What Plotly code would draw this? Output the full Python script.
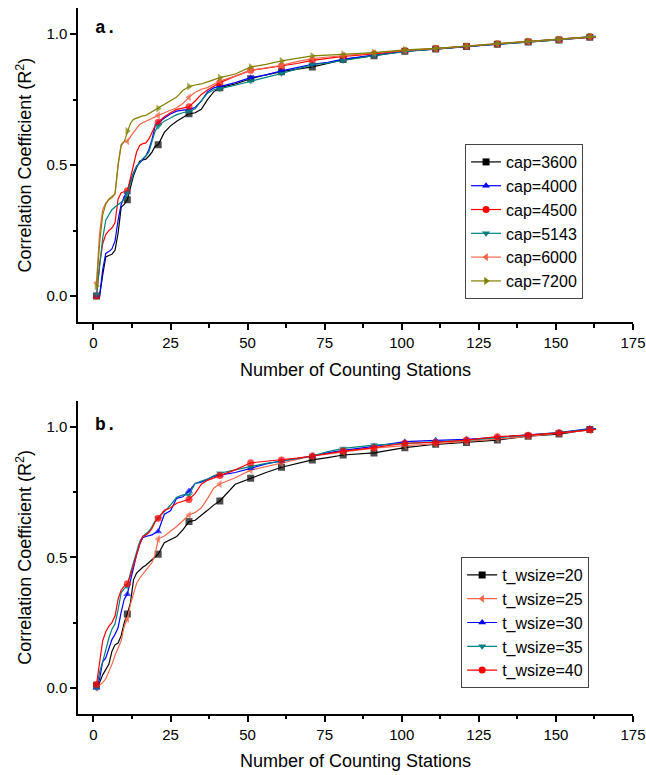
import plotly.graph_objects as go

# ---------------- data ----------------
X_A = [1, 2, 3, 4, 5, 6, 7, 8, 9, 10, 11, 12, 13, 14, 15, 16, 17, 18, 19, 20, 21,
       23, 25, 27, 29, 31, 33, 35, 37, 39, 41, 46, 51, 56, 61, 66, 71, 76, 81,
       91, 101, 111, 121, 131, 141, 151, 161, 163]
X_B = list(X_A)
MARKER_X = [1, 11, 21, 31, 41, 51, 61, 71, 81, 91, 101, 111, 121, 131, 141, 151, 161]

CAP_3600 = [0.00, 0.00, 0.08, 0.15, 0.155, 0.16, 0.175, 0.24, 0.34, 0.35, 0.368, 0.41, 0.46, 0.49, 0.515, 0.52, 0.523, 0.535, 0.55, 0.572, 0.578,
            0.625, 0.65, 0.668, 0.682, 0.696, 0.70, 0.713, 0.75, 0.78, 0.796, 0.81, 0.83, 0.845, 0.857, 0.865, 0.875, 0.888, 0.903,
            0.918, 0.935, 0.943, 0.953, 0.962, 0.97, 0.978, 0.988, 0.99]
CAP_4000 = [0.00, 0.00, 0.10, 0.163, 0.17, 0.18, 0.21, 0.29, 0.35, 0.38, 0.396, 0.44, 0.47, 0.496, 0.508, 0.52, 0.535, 0.56, 0.598, 0.649, 0.66,
            0.68, 0.695, 0.706, 0.71, 0.713, 0.72, 0.745, 0.78, 0.795, 0.80, 0.815, 0.834, 0.845, 0.86, 0.872, 0.885, 0.893, 0.905,
            0.92, 0.935, 0.944, 0.953, 0.963, 0.971, 0.979, 0.99, 0.992]
CAP_4500 = [0.00, 0.12, 0.20, 0.235, 0.25, 0.26, 0.28, 0.37, 0.395, 0.40, 0.402, 0.45, 0.50, 0.55, 0.575, 0.582, 0.585, 0.60, 0.625, 0.65, 0.664,
            0.685, 0.70, 0.713, 0.718, 0.723, 0.745, 0.77, 0.787, 0.80, 0.815, 0.84, 0.862, 0.87, 0.879, 0.888, 0.90, 0.908, 0.915,
            0.925, 0.937, 0.945, 0.954, 0.963, 0.971, 0.979, 0.99, 0.991]
CAP_5143 = [0.005, 0.12, 0.22, 0.29, 0.31, 0.33, 0.34, 0.348, 0.358, 0.37, 0.393, 0.43, 0.47, 0.495, 0.51, 0.525, 0.535, 0.55, 0.59, 0.63, 0.649,
            0.668, 0.68, 0.693, 0.70, 0.706, 0.715, 0.745, 0.775, 0.788, 0.792, 0.805, 0.821, 0.835, 0.85, 0.868, 0.884, 0.89, 0.90,
            0.918, 0.933, 0.944, 0.953, 0.962, 0.97, 0.978, 0.99, 0.991]
CAP_6000 = [0.051, 0.24, 0.33, 0.355, 0.368, 0.375, 0.39, 0.50, 0.58, 0.59, 0.591, 0.61, 0.625, 0.64, 0.655, 0.662, 0.668, 0.674, 0.68, 0.686, 0.69,
            0.70, 0.71, 0.719, 0.735, 0.759, 0.778, 0.79, 0.796, 0.81, 0.821, 0.84, 0.862, 0.872, 0.881, 0.895, 0.907, 0.913, 0.918,
            0.928, 0.938, 0.945, 0.955, 0.964, 0.972, 0.98, 0.99, 0.991]
CAP_7200 = [0.038, 0.20, 0.31, 0.35, 0.37, 0.38, 0.39, 0.50, 0.575, 0.59, 0.63, 0.66, 0.675, 0.68, 0.686, 0.688, 0.69, 0.697, 0.703, 0.71, 0.716,
            0.73, 0.745, 0.76, 0.785, 0.80, 0.806, 0.81, 0.818, 0.827, 0.834, 0.848, 0.875, 0.885, 0.898, 0.908, 0.917, 0.92, 0.923,
            0.93, 0.94, 0.946, 0.955, 0.964, 0.973, 0.981, 0.991, 0.992]

TW_20 = [0.01, 0.02, 0.05, 0.068, 0.09, 0.14, 0.165, 0.172, 0.20, 0.25, 0.283, 0.325, 0.414, 0.44, 0.452, 0.462, 0.47, 0.48, 0.49, 0.50, 0.512,
         0.556, 0.567, 0.58, 0.605, 0.637, 0.642, 0.66, 0.68, 0.70, 0.716, 0.78, 0.803, 0.825, 0.845, 0.86, 0.873, 0.882, 0.892,
         0.90, 0.92, 0.933, 0.94, 0.949, 0.964, 0.972, 0.99, 0.991]
TW_25 = [0.00, 0.01, 0.02, 0.035, 0.06, 0.09, 0.125, 0.155, 0.18, 0.236, 0.264, 0.32, 0.36, 0.40, 0.42, 0.437, 0.45, 0.465, 0.48, 0.51, 0.57,
         0.582, 0.599, 0.618, 0.64, 0.662, 0.672, 0.69, 0.725, 0.765, 0.781, 0.805, 0.834, 0.848, 0.86, 0.875, 0.888, 0.895, 0.904,
         0.918, 0.928, 0.935, 0.943, 0.953, 0.963, 0.975, 0.985, 0.99]
TW_30 = [0.00, 0.035, 0.10, 0.115, 0.15, 0.185, 0.205, 0.23, 0.29, 0.34, 0.359, 0.414, 0.46, 0.51, 0.55, 0.575, 0.58, 0.583, 0.586, 0.593, 0.599,
         0.665, 0.678, 0.726, 0.732, 0.754, 0.783, 0.788, 0.80, 0.81, 0.815, 0.825, 0.841, 0.858, 0.869, 0.878, 0.888, 0.90, 0.91,
         0.925, 0.943, 0.948, 0.952, 0.96, 0.968, 0.978, 0.993, 0.993]
TW_35 = [0.00, 0.06, 0.10, 0.15, 0.19, 0.225, 0.245, 0.30, 0.365, 0.38, 0.39, 0.44, 0.48, 0.529, 0.56, 0.58, 0.59, 0.60, 0.618, 0.64, 0.65,
         0.675, 0.70, 0.73, 0.739, 0.739, 0.783, 0.792, 0.80, 0.812, 0.822, 0.835, 0.847, 0.86, 0.868, 0.878, 0.888, 0.905, 0.917,
         0.93, 0.935, 0.942, 0.948, 0.958, 0.966, 0.978, 0.99, 0.991]
TW_40 = [0.013, 0.10, 0.18, 0.215, 0.236, 0.25, 0.275, 0.34, 0.375, 0.39, 0.399, 0.43, 0.47, 0.503, 0.55, 0.58, 0.585, 0.595, 0.611, 0.635, 0.65,
         0.68, 0.69, 0.707, 0.715, 0.722, 0.745, 0.78, 0.795, 0.805, 0.813, 0.835, 0.862, 0.868, 0.873, 0.88, 0.888, 0.898, 0.907,
         0.92, 0.937, 0.94, 0.949, 0.962, 0.968, 0.977, 0.99, 0.99]

NAMES_A = ["cap=3600", "cap=4000", "cap=4500", "cap=5143", "cap=6000", "cap=7200"]
VALUES_A = [CAP_3600, CAP_4000, CAP_4500, CAP_5143, CAP_6000, CAP_7200]
COLORS_A = ["#000000", "#0000FF", "#FF0000", "#008080", "#F4664A", "#808000"]
SYMBOLS_A = ["square", "triangle-up", "circle", "triangle-down", "triangle-left", "triangle-right"]

NAMES_B = ["t_wsize=20", "t_wsize=25", "t_wsize=30", "t_wsize=35", "t_wsize=40"]
VALUES_B = [TW_20, TW_25, TW_30, TW_35, TW_40]
COLORS_B = ["#000000", "#F4664A", "#0000FF", "#008080", "#FF0000"]
SYMBOLS_B = ["square", "triangle-left", "triangle-up", "triangle-down", "circle"]

# ---------------- figure ----------------
FONT = "Liberation Sans, Arial, sans-serif"
fig = go.Figure()


def add_series(name, xs, ys, color, symbol, xa, ya, legend):
    sizes = [7 if x in MARKER_X else 0 for x in xs]
    fig.add_trace(go.Scatter(
        x=xs, y=ys, mode="lines+markers", xaxis=xa, yaxis=ya,
        line=dict(color=color, width=1.2),
        marker=dict(symbol=symbol, size=sizes, color=color, line=dict(width=0)),
        showlegend=False, hoverinfo="x+y", name=name))
    fig.add_trace(go.Scatter(
        x=[None], y=[None], mode="lines+markers", xaxis=xa, yaxis=ya,
        line=dict(color=color, width=1.2),
        marker=dict(symbol=symbol, size=7, color=color),
        name=name, legend=legend, showlegend=True))


for n, v, c, s in zip(NAMES_A, VALUES_A, COLORS_A, SYMBOLS_A):
    add_series(n, X_A, v, c, s, "x", "y", "legend")
for n, v, c, s in zip(NAMES_B, VALUES_B, COLORS_B, SYMBOLS_B):
    add_series(n, X_B, v, c, s, "x2", "y2", "legend2")

xcommon = dict(
    range=[-5, 175], tick0=0, dtick=25, showline=True, linecolor="black", linewidth=1.5,
    ticks="outside", ticklen=6, tickwidth=1.5, tickcolor="black",
    minor=dict(ticks="outside", ticklen=3.5, tickwidth=1.5, tickcolor="black", dtick=12.5, tick0=0),
    showgrid=False, zeroline=False, mirror=False, automargin=False,
    tickfont=dict(family=FONT, size=15, color="black"),
    title=dict(text="Number of Counting Stations", font=dict(family=FONT, size=18, color="black"), standoff=13),
)
ycommon = dict(
    range=[-0.1, 1.1], tick0=0, dtick=0.5, tickformat=".1f", showline=True, linecolor="black", linewidth=1.5,
    ticks="outside", ticklen=6, tickwidth=1.5, tickcolor="black",
    minor=dict(ticks="outside", ticklen=3.5, tickwidth=1.5, tickcolor="black", dtick=0.25, tick0=0),
    showgrid=False, zeroline=False, mirror=False, automargin=False,
    tickfont=dict(family=FONT, size=15, color="black"),
    title=dict(text="Correlation Coefficient (R<sup>2</sup>)", font=dict(family=FONT, size=18, color="black"), standoff=10),
)

legend_common = dict(
    bgcolor="white", bordercolor="#444444", borderwidth=1,
    font=dict(family=FONT, size=16, color="black"),
    xanchor="right", yanchor="bottom", tracegroupgap=0,
)

fig.update_layout(
    template="none",
    width=646, height=775,
    margin=dict(l=78, r=13, t=8, b=61),
    paper_bgcolor="white", plot_bgcolor="white",
    xaxis=dict(domain=[0, 1], anchor="y", **xcommon),
    yaxis=dict(domain=[0.5548, 1.0], anchor="x", **ycommon),
    xaxis2=dict(domain=[0, 1], anchor="y2", **xcommon),
    yaxis2=dict(domain=[0.0, 0.4438], anchor="x2", **ycommon),
    legend=dict(x=0.91, y=0.5878, **legend_common),
    legend2=dict(x=0.921, y=0.0368, **legend_common),
    annotations=[
        dict(text="<b>a.</b>", x=0, y=1.023, xref="x", yref="y", xanchor="left", yanchor="middle",
             showarrow=False, font=dict(family="Liberation Mono, Courier New, monospace", size=18, color="black")),
        dict(text="<b>b.</b>", x=0, y=1.006, xref="x2", yref="y2", xanchor="left", yanchor="middle",
             showarrow=False, font=dict(family="Liberation Mono, Courier New, monospace", size=18, color="black")),
    ],
)

# remove the page's default body margin so the 646x775 figure fills the window exactly
fig.write_html(
    "out.html",
    config={"displayModeBar": False},
    post_script="document.body.style.margin='0';document.body.style.overflow='hidden';"
                "document.documentElement.style.overflow='hidden';",
)
